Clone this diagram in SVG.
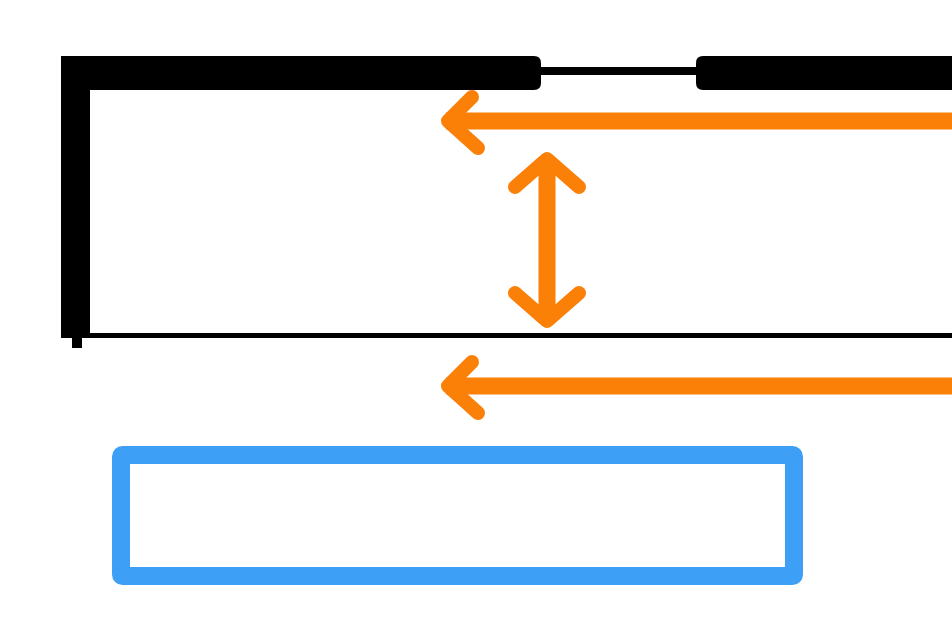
<svg xmlns="http://www.w3.org/2000/svg" width="952" height="638" viewBox="0 0 952 638">
  <defs>
    <style>
      .wall { fill: #000; }
      .thin { stroke: #000; fill: none; }
      .arrow { stroke: #FA8008; stroke-width: 17; fill: none; }
      .box { stroke: #3D9FF5; stroke-width: 18; fill: #fff; }
    </style>
    <marker id="chev" markerUnits="userSpaceOnUse" viewBox="-40 -35 50 70" markerWidth="50" markerHeight="70" refX="0" refY="0" orient="auto-start-reverse" overflow="visible">
      <path d="M-32,-27 L-2,0 L-26,24" stroke="#FA8008" stroke-width="14" fill="none" stroke-linecap="round" stroke-linejoin="round"/>
    </marker>
    <marker id="chevWide" markerUnits="userSpaceOnUse" viewBox="-40 -40 50 80" markerWidth="50" markerHeight="80" refX="0" refY="0" orient="auto-start-reverse" overflow="visible">
      <path d="M-30,-32 L-2,0 L-30,32" stroke="#FA8008" stroke-width="14" fill="none" stroke-linecap="round" stroke-linejoin="round"/>
    </marker>
  </defs>
  <rect width="952" height="638" fill="#fff"/>
  <g id="walls">
    <path class="wall" d="M61,56 H534 Q541,56 541,63 V83 Q541,90 534,90 H90 V338 H61 Z"/>
    <rect class="wall" x="72" y="330" width="10" height="18"/>
    <path class="wall" d="M703,56 H952 V90 H703 Q696,90 696,83 V63 Q696,56 703,56 Z"/>
    <line class="thin" x1="538" y1="71" x2="700" y2="71" stroke-width="8"/>
    <line class="thin" x1="61" y1="335.5" x2="952" y2="335.5" stroke-width="5"/>
  </g>
  <g id="box">
    <rect class="box" x="121" y="455" width="673" height="121" rx="1.5"/>
  </g>
  <g id="connectors">
    <line class="arrow" x1="952" y1="121" x2="446" y2="121" marker-end="url(#chev)"/>
    <line class="arrow" x1="952" y1="386" x2="446" y2="386" marker-end="url(#chev)"/>
    <line class="arrow" x1="547" y1="157" x2="547" y2="323" stroke-width="16" marker-start="url(#chevWide)" marker-end="url(#chevWide)"/>
  </g>
</svg>
